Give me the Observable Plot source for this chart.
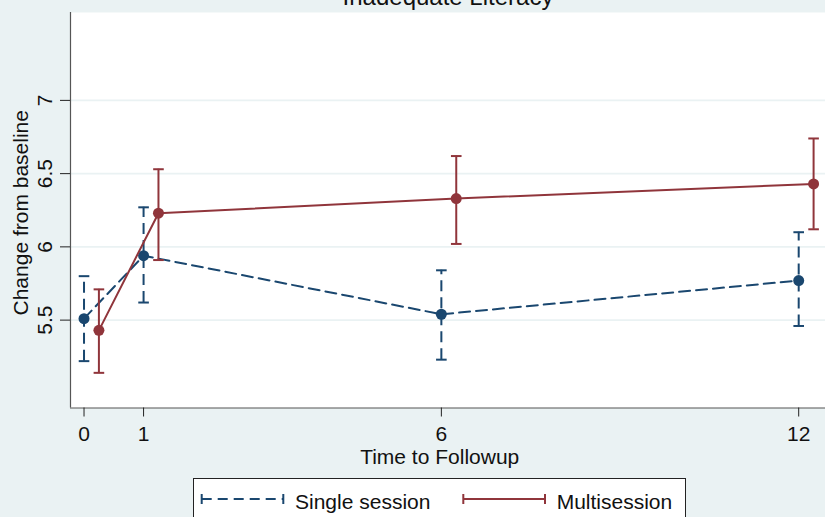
<!DOCTYPE html>
<html>
<head>
<meta charset="utf-8">
<script src="https://cdn.jsdelivr.net/npm/d3@7"></script>
<script src="https://cdn.jsdelivr.net/npm/@observablehq/plot@0.6"></script>
<style>
  html, body { margin: 0; padding: 0; background: #eaf2f3; }
  #wrap { position: relative; width: 825px; height: 517px; overflow: hidden; background: #eaf2f3;
          font-family: "Liberation Sans", Arial, Helvetica, sans-serif; }
  #title { position: absolute; left: 0; width: 896px; top: -14.8px; text-align: center;
           font-size: 24px; line-height: 24px; color: #111; white-space: nowrap; }
  #legend { position: absolute; left: 0; top: 0; }
  #chart { position: absolute; left: 0; top: 0; }
</style>
</head>
<body>
<div id="wrap">
  <div id="chart"></div>
  <div id="title"></div>
  <svg id="legend" width="825" height="517"></svg>
</div>
<script>
// ---- data ----
const titleText = "Inadequate Literacy";
const seriesNames = ["Single session", "Multisession"];
const singleTimes = [0, 1, 6, 12];
const singleMean = [5.51, 5.94, 5.54, 5.77];
const singleLo   = [5.22, 5.62, 5.23, 5.46];
const singleHi   = [5.80, 6.27, 5.84, 6.10];
const multiTimes = [0.25, 1.25, 6.25, 12.25];
const multiMean  = [5.43, 6.23, 6.33, 6.43];
const multiLo    = [5.14, 5.91, 6.02, 6.12];
const multiHi    = [5.71, 6.53, 6.62, 6.74];
const xTicks = [0, 1, 6, 12];
const yTicks = [5.5, 6, 6.5, 7];
const xLabel = "Time to Followup";
const yLabel = "Change from baseline";

// ---- styling ----
const blue = "#1a476f";
const red = "#90353b";
const dash = "11,6";
const font = "\"Liberation Sans\", Arial, Helvetica, sans-serif";

const single = singleTimes.map((t, i) => ({t, m: singleMean[i], lo: singleLo[i], hi: singleHi[i]}));
const multi = multiTimes.map((t, i) => ({t, m: multiMean[i], lo: multiLo[i], hi: multiHi[i]}));

const capSymbol = {
  draw(context) { context.moveTo(-5.3, 0); context.lineTo(5.3, 0); }
};

const xDomain = [-0.227, 12.45];
const yDomain = [4.9, 7.6];
const txt = {fill: "#111", fontSize: 21, textAnchor: "middle", lineAnchor: "middle"};

const plot = Plot.plot({
  width: 825,
  height: 517,
  marginTop: 12,
  marginBottom: 109.5,
  marginLeft: 70,
  marginRight: 0,
  x: {domain: xDomain},
  y: {domain: yDomain},
  style: {background: "transparent", fontFamily: font, fontSize: "21px", color: "#111", overflow: "visible"},
  marks: [
    Plot.frame({fill: "white", stroke: "none"}),
    Plot.gridY(yTicks, {stroke: "#eaf2f3", strokeOpacity: 1, strokeWidth: 1.6}),
    // axis lines
    Plot.ruleX([xDomain[0]], {stroke: "#555", strokeWidth: 1.2}),
    Plot.ruleY([yDomain[0]], {stroke: "#555", strokeWidth: 1.2}),
    // ticks
    Plot.axisX(xTicks, {tickSize: 9, tickFormat: () => "", label: null, stroke: "#222"}),
    Plot.axisY(yTicks, {tickSize: 10, tickFormat: () => "", label: null, stroke: "#222"}),
    // tick labels
    Plot.text(xTicks, {x: d => d, frameAnchor: "bottom", dy: 26.5, text: d => String(d), ...txt}),
    Plot.text(yTicks, {y: d => d, frameAnchor: "left", dx: -25.7, rotate: -90, text: d => String(d), ...txt}),
    // axis titles
    Plot.text([xLabel], {frameAnchor: "bottom", dy: 49, dx: -8.3, text: d => d, ...txt}),
    Plot.text([yLabel], {frameAnchor: "left", dx: -49.7, dy: 2.5, rotate: -90, text: d => d, ...txt}),
    // single session
    Plot.ruleX(single, {x: "t", y1: "lo", y2: "hi", stroke: blue, strokeWidth: 2, strokeDasharray: dash}),
    Plot.dot(single, {x: "t", y: "lo", symbol: capSymbol, stroke: blue, strokeWidth: 2, r: 5}),
    Plot.dot(single, {x: "t", y: "hi", symbol: capSymbol, stroke: blue, strokeWidth: 2, r: 5}),
    Plot.line(single, {x: "t", y: "m", stroke: blue, strokeWidth: 2, strokeDasharray: dash}),
    Plot.dot(single, {x: "t", y: "m", fill: blue, r: 5.5, stroke: "none"}),
    // multisession
    Plot.ruleX(multi, {x: "t", y1: "lo", y2: "hi", stroke: red, strokeWidth: 2}),
    Plot.dot(multi, {x: "t", y: "lo", symbol: capSymbol, stroke: red, strokeWidth: 2, r: 5}),
    Plot.dot(multi, {x: "t", y: "hi", symbol: capSymbol, stroke: red, strokeWidth: 2, r: 5}),
    Plot.line(multi, {x: "t", y: "m", stroke: red, strokeWidth: 2}),
    Plot.dot(multi, {x: "t", y: "m", fill: red, r: 5.5, stroke: "none"})
  ]
});
document.getElementById("chart").appendChild(plot);
document.getElementById("title").textContent = titleText;

// ---- legend ----
const lg = d3.select("#legend");
lg.append("rect").attr("x", 193.5).attr("y", 478.5).attr("width", 492).attr("height", 60)
  .attr("fill", "white").attr("stroke", "#222").attr("stroke-width", 1);
const items = [
  {name: seriesNames[0], color: blue, dashed: true, x0: 201.7, x1: 283.3, tx: 295},
  {name: seriesNames[1], color: red, dashed: false, x0: 463.3, x1: 545, tx: 556.7}
];
for (const it of items) {
  lg.append("line").attr("x1", it.x0).attr("x2", it.x1).attr("y1", 499).attr("y2", 499)
    .attr("stroke", it.color).attr("stroke-width", 2).attr("stroke-dasharray", it.dashed ? "10,6" : null);
  for (const cx of [it.x0, it.x1]) {
    lg.append("line").attr("x1", cx).attr("x2", cx).attr("y1", 494).attr("y2", 504)
      .attr("stroke", it.color).attr("stroke-width", 2);
  }
  lg.append("text").attr("x", it.tx).attr("y", 508.5).text(it.name)
    .attr("font-family", font).attr("font-size", 21).attr("fill", "#111");
}
</script>
</body>
</html>
